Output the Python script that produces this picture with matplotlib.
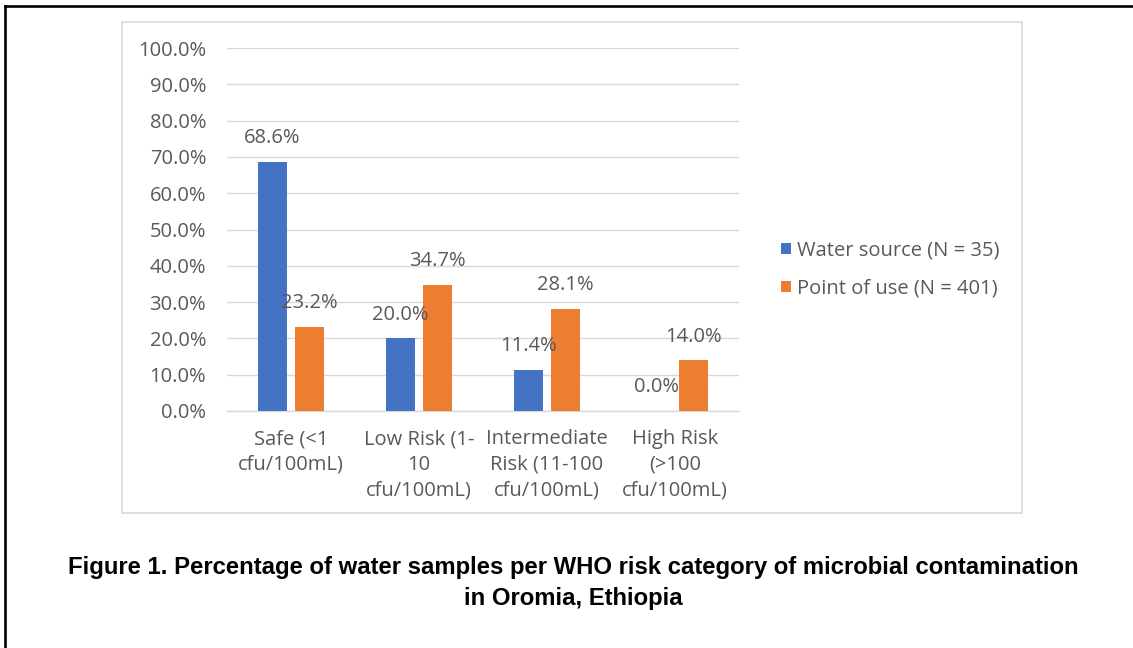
import numpy as np
import matplotlib.pyplot as plt
from matplotlib.patches import Rectangle
from matplotlib.lines import Line2D
from matplotlib.ticker import FuncFormatter

categories = ['Safe (<1\ncfu/100mL)', 'Low Risk (1-\n10\ncfu/100mL)',
              'Intermediate\nRisk (11-100\ncfu/100mL)', 'High Risk\n(>100\ncfu/100mL)']
water_source = [68.6, 20.0, 11.4, 0.0]
point_of_use = [23.2, 34.7, 28.1, 14.0]
series_names = ['Water source (N = 35)', 'Point of use (N = 401)']
caption = ('Figure 1. Percentage of water samples per WHO risk category of microbial contamination\n'
           'in Oromia, Ethiopia')

W, H = 1133, 648
txt = '#595959'
grid = '#d9d9d9'
font = 'Open Sans'
fs = 14.5

fig = plt.figure(figsize=(W / 100, H / 100), dpi=100)

# outer page border (left and top only visible)
fig.add_artist(Line2D([5 / W, 5 / W], [0, 1 - 6 / H], color='black', lw=1.9))
fig.add_artist(Line2D([5 / W, 1], [1 - 6 / H, 1 - 6 / H], color='black', lw=1.9))

# chart area frame
fig.add_artist(Rectangle((122 / W, 1 - 513 / H), 900 / W, 491 / H, fill=False,
                         edgecolor=grid, lw=1.2, transform=fig.transFigure))

ax = fig.add_axes([227 / W, 1 - 411 / H, 512 / W, 363 / H])
ind = np.arange(len(categories))
width = 0.223
off = 0.1455
b1 = ax.bar(ind - off, water_source, width, color='#4472C4', label=series_names[0], zorder=3)
b2 = ax.bar(ind + off, point_of_use, width, color='#ED7D31', label=series_names[1], zorder=3)

for rects, vals in ((b1, water_source), (b2, point_of_use)):
    for r, v in zip(rects, vals):
        ax.annotate('%.1f%%' % v, (r.get_x() + r.get_width() / 2, v), xytext=(0, 17),
                    textcoords='offset points', ha='center', va='center',
                    fontsize=fs, color=txt, family=font, zorder=4)

ax.set_xlim(-0.5, 3.5)
ax.set_ylim(0, 100)
ax.set_yticks(np.arange(0, 101, 10))
ax.yaxis.set_major_formatter(FuncFormatter(lambda v, p: '%.1f%%' % v))
ax.set_xticks(ind)
ax.set_xticklabels(categories, linespacing=1.39)
ax.grid(axis='y', color=grid, lw=1.0, zorder=0)
ax.tick_params(length=0, labelsize=fs, labelcolor=txt)
ax.tick_params(axis='y', pad=15)
ax.tick_params(axis='x', pad=13)
for lab in ax.get_xticklabels() + ax.get_yticklabels():
    lab.set_family(font)
for s in ('top', 'right', 'left'):
    ax.spines[s].set_visible(False)
ax.spines['bottom'].set_color(grid)
ax.spines['bottom'].set_linewidth(1.0)

ax.legend(loc='center left', bbox_to_anchor=(763 / W, 1 - 269.5 / H),
          bbox_transform=fig.transFigure, frameon=False,
          prop={'family': font, 'size': fs}, labelcolor=txt,
          handlelength=0.5, handleheight=0.5, handletextpad=0.3, labelspacing=0.9)

fig.text(573 / W, 1 - 583 / H, caption, ha='center', va='center', fontsize=17.2,
         fontweight='bold', family='Liberation Sans', linespacing=1.45)

fig.savefig('out.png', dpi=100)
